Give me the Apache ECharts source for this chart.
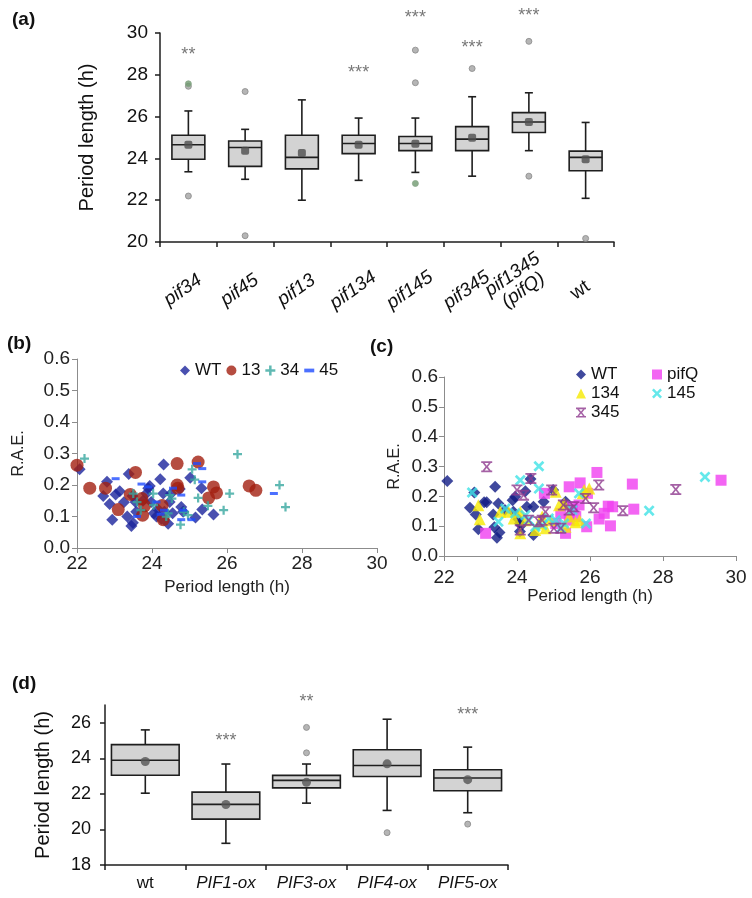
<!DOCTYPE html>
<html>
<head>
<meta charset="utf-8">
<script src="https://cdn.jsdelivr.net/npm/echarts@6/dist/echarts.min.js"></script>
<style>
  html, body { margin: 0; padding: 0; background: #fff; }
  #main { width: 752px; height: 898px; }
</style>
</head>
<body>
<div id="main"></div>
<script>
var FONT = '"Liberation Sans", Arial, Helvetica, sans-serif';

// (a) period length of pif mutants: [lowWhisker, q1, median, q3, highWhisker]
var catA = ['pif34', 'pif45', 'pif13', 'pif134', 'pif145', 'pif345', 'pif1345\n(pifQ)', 'wt'];
var boxA = [
  [23.36, 23.96, 24.65, 25.11, 26.27],
  [23.00, 23.62, 24.52, 24.83, 25.39],
  [22.00, 23.50, 24.05, 25.11, 26.80],
  [22.95, 24.23, 24.71, 25.11, 25.93],
  [23.33, 24.37, 24.71, 25.05, 25.93],
  [23.15, 24.37, 24.92, 25.52, 26.95],
  [24.37, 25.24, 25.74, 26.19, 27.14],
  [22.09, 23.41, 24.05, 24.35, 25.72]
];
var meanA = [24.65, 24.37, 24.26, 24.65, 24.70, 24.99, 25.74, 23.96];
var outA = [[0, 27.45], [0, 22.2], [1, 27.2], [1, 20.3], [4, 29.18], [4, 27.62], [5, 28.3], [6, 29.6], [6, 23.15], [7, 20.17]];
var outGreenA = [[0, 27.57], [4, 22.8]];
var starsA = [[0, 29.2, '**'], [3, 28.34, '***'], [4, 30.96, '***'], [5, 29.5, '***'], [6, 31.04, '***']];

// (b) R.A.E. vs period
var wtB = [[22.07,0.25],[22.8,0.21],[22.7,0.165],[22.87,0.14],[22.94,0.09],[23.03,0.17],[23.14,0.18],[23.38,0.235],[23.25,0.145],[23.34,0.10],[23.45,0.07],[23.49,0.08],[23.48,0.165],[23.56,0.146],[23.58,0.115],[23.76,0.15],[23.85,0.173],[23.9,0.19],[23.94,0.197],[23.98,0.146],[24.05,0.11],[24.12,0.1],[24.16,0.123],[24.22,0.218],[24.25,0.093],[24.3,0.173],[24.31,0.265],[24.33,0.115],[24.43,0.077],[24.47,0.146],[24.51,0.173],[24.55,0.11],[24.74,0.187],[24.78,0.13],[24.83,0.115],[25.02,0.223],[25.16,0.097],[25.32,0.19],[25.34,0.122],[25.64,0.106]];
var p13B = [[22.0,0.263],[22.34,0.19],[22.76,0.19],[23.1,0.122],[23.42,0.17],[23.56,0.24],[23.73,0.157],[23.8,0.134],[23.75,0.104],[24.27,0.135],[24.3,0.09],[24.67,0.268],[24.67,0.2],[24.69,0.19],[25.23,0.273],[25.51,0.159],[25.64,0.194],[25.72,0.175],[26.59,0.197],[26.77,0.183]];
var p34B = [[22.2,0.284],[23.5,0.173],[23.6,0.146],[23.7,0.12],[24.03,0.173],[24.04,0.136],[24.38,0.1],[24.43,0.11],[24.47,0.168],[24.53,0.157],[24.76,0.074],[24.85,0.115],[24.96,0.104],[25.07,0.25],[25.14,0.217],[25.23,0.159],[25.49,0.134],[25.91,0.12],[26.07,0.173],[26.28,0.298],[27.4,0.2],[27.56,0.13]];
var p45B = [[23.03,0.22],[23.6,0.1],[23.72,0.203],[23.9,0.194],[24.12,0.146],[24.23,0.107],[24.32,0.12],[24.56,0.19],[24.78,0.168],[24.83,0.12],[24.78,0.09],[25.05,0.09],[25.2,0.268],[25.34,0.252],[25.34,0.21],[27.25,0.173]];

// (c)
var wtC = [[22.09,0.251],[22.71,0.162],[22.83,0.213],[22.87,0.139],[22.94,0.09],[23.1,0.18],[23.17,0.18],[23.4,0.232],[23.35,0.139],[23.38,0.096],[23.45,0.061],[23.52,0.079],[23.49,0.176],[23.67,0.154],[23.88,0.187],[23.95,0.199],[23.9,0.148],[24.04,0.123],[24.08,0.109],[24.12,0.104],[24.08,0.082],[24.23,0.217],[24.27,0.165],[24.37,0.258],[24.45,0.165],[24.45,0.07],[24.73,0.182],[24.99,0.221],[25.33,0.182]];
var pifQC = [[23.14,0.076],[24.75,0.21],[25.06,0.109],[25.2,0.143],[25.33,0.076],[25.43,0.232],[25.43,0.12],[25.52,0.165],[25.61,0.132],[25.7,0.171],[25.73,0.245],[25.91,0.098],[25.93,0.21],[26.19,0.28],[26.25,0.124],[26.39,0.143],[26.5,0.167],[26.56,0.101],[26.62,0.165],[27.16,0.241],[27.2,0.157],[29.59,0.254]];
var p134C = [[22.94,0.17],[22.98,0.123],[23.54,0.148],[23.77,0.148],[23.91,0.126],[24.09,0.148],[24.09,0.076],[24.23,0.12],[24.5,0.087],[24.6,0.109],[24.69,0.132],[24.78,0.093],[24.92,0.12],[25.06,0.215],[25.15,0.17],[25.29,0.176],[25.33,0.098],[25.43,0.132],[25.6,0.113],[25.71,0.12],[25.8,0.21],[25.84,0.221],[25.98,0.226]];
var p145C = [[22.77,0.213],[23.49,0.115],[23.68,0.159],[23.95,0.143],[24.09,0.254],[24.23,0.137],[24.32,0.12],[24.5,0.098],[24.6,0.301],[24.6,0.226],[24.69,0.104],[24.87,0.126],[25.06,0.12],[25.2,0.093],[25.29,0.109],[25.52,0.154],[25.7,0.21],[25.89,0.109],[27.62,0.152],[29.15,0.265]];
var p345C = [[23.17,0.299],[24.0,0.221],[24.09,0.087],[24.18,0.204],[24.32,0.12],[24.38,0.26],[24.6,0.115],[24.69,0.12],[24.78,0.148],[24.95,0.221],[25.01,0.093],[25.2,0.093],[25.27,0.171],[25.43,0.154],[25.56,0.165],[25.88,0.193],[26.1,0.162],[26.24,0.238],[26.9,0.152],[28.35,0.223]];

// (d) overexpressors
var catD = ['wt', 'PIF1-ox', 'PIF3-ox', 'PIF4-ox', 'PIF5-ox'];
var boxD = [
  [22.04, 23.05, 23.89, 24.77, 25.60],
  [19.22, 20.58, 21.41, 22.10, 23.68],
  [21.48, 22.34, 22.76, 23.04, 23.68],
  [21.07, 22.98, 23.60, 24.48, 26.20],
  [20.94, 22.18, 22.89, 23.36, 24.63]
];
var meanD = [23.82, 21.40, 22.65, 23.69, 22.80];
var outD = [[2, 25.74], [2, 24.31], [3, 19.82], [4, 20.3]];
var starsD = [[1, 25.25, '***'], [2, 27.46, '**'], [4, 26.7, '***']];

var PLUS = 'path://M3,0h2v3h3v2h-3v3h-2v-3h-3v-2h3z';
var DASH = 'path://M0,0h8v3h-8z';
var CROSS = 'path://M0,1.4L1.4,0L4,2.6L6.6,0L8,1.4L5.4,4L8,6.6L6.6,8L4,5.4L1.4,8L0,6.6L2.6,4z';
var HOUR = 'path://M0,0h8v1.3h-8z M0,6.7h8v1.3h-8z M1,1.3L2.5,1.3L4,3.2L5.5,1.3L7,1.3L4.9,4L7,6.7L5.5,6.7L4,4.8L2.5,6.7L1,6.7L3.1,4z';

function boxRenderer(ratio, cap) {
  return function (params, api) {
    var i = api.value(0);
    var lo = api.coord([i, api.value(1)]);
    var q1 = api.coord([i, api.value(2)]);
    var md = api.coord([i, api.value(3)]);
    var q3 = api.coord([i, api.value(4)]);
    var hi = api.coord([i, api.value(5)]);
    var w = api.size([1, 0])[0] * ratio;
    var cx = lo[0];
    var ls = { stroke: '#1e1e1e', lineWidth: 1.6, fill: null };
    return {
      type: 'group',
      children: [
        { type: 'line', shape: { x1: cx, y1: lo[1], x2: cx, y2: q1[1] }, style: ls },
        { type: 'line', shape: { x1: cx, y1: q3[1], x2: cx, y2: hi[1] }, style: ls },
        { type: 'line', shape: { x1: cx - cap / 2, y1: lo[1], x2: cx + cap / 2, y2: lo[1] }, style: ls },
        { type: 'line', shape: { x1: cx - cap / 2, y1: hi[1], x2: cx + cap / 2, y2: hi[1] }, style: ls },
        { type: 'rect', shape: { x: cx - w / 2, y: q3[1], width: w, height: q1[1] - q3[1] },
          style: { fill: '#d3d3d3', stroke: '#1e1e1e', lineWidth: 1.6 } },
        { type: 'line', shape: { x1: cx - w / 2, y1: md[1], x2: cx + w / 2, y2: md[1] }, style: ls }
      ]
    };
  };
}

function starSeries(xi, yi, data) {
  return {
    type: 'scatter', xAxisIndex: xi, yAxisIndex: yi, data: data,
    symbolSize: 1, itemStyle: { color: 'rgba(0,0,0,0)' }, clip: false, silent: true,
    label: { show: true, position: 'inside', offset: [0, 5], formatter: function (p) { return p.value[2]; },
      fontSize: 18, color: '#555', fontFamily: FONT }
  };
}

var darkAxis = { lineStyle: { color: '#1e1e1e', width: 1.5 } };
var grayAxis = { lineStyle: { color: '#8c8c8c', width: 1 } };
var darkTick = { show: true, length: 5, lineStyle: { color: '#1e1e1e', width: 1.5 } };
var grayTick = { show: true, length: 5, lineStyle: { color: '#8c8c8c', width: 1 } };

var myChart = echarts.init(document.getElementById('main'));

myChart.setOption({
  backgroundColor: '#fff',
  animation: false,
  textStyle: { fontFamily: FONT },

  graphic: [
    { type: 'text', left: 12, top: 10, style: { text: '(a)', font: 'bold 19px ' + FONT, fill: '#111' } },
    { type: 'text', left: 7, top: 334, style: { text: '(b)', font: 'bold 19px ' + FONT, fill: '#111' } },
    { type: 'text', left: 370, top: 337, style: { text: '(c)', font: 'bold 19px ' + FONT, fill: '#111' } },
    { type: 'text', left: 12, top: 674, style: { text: '(d)', font: 'bold 19px ' + FONT, fill: '#111' } }
  ],

  legend: [
    { data: ['WT', '13', '34', { name: '45', icon: DASH }], left: 175, top: 357,
      itemWidth: 10, itemHeight: 10, itemGap: 5, selectedMode: false,
      textStyle: { fontSize: 17, color: '#111', fontFamily: FONT } },
    { data: ['WT ', '134', '345'], orient: 'vertical', left: 571, top: 361,
      itemWidth: 10, itemHeight: 10, itemGap: 2, selectedMode: false,
      textStyle: { fontSize: 17, color: '#111', fontFamily: FONT } },
    { data: ['pifQ', '145'], orient: 'vertical', left: 647, top: 361,
      itemWidth: 10, itemHeight: 10, itemGap: 2, selectedMode: false,
      textStyle: { fontSize: 17, color: '#111', fontFamily: FONT } }
  ],

  grid: [
    { left: 160, top: 33, width: 454, height: 209 },
    { left: 77, top: 359, width: 300, height: 189 },
    { left: 444, top: 377, width: 292, height: 179 },
    { left: 105, top: 705, width: 403, height: 160 }
  ],

  xAxis: [
    { type: 'category', gridIndex: 0, data: catA, axisLine: darkAxis, axisTick: darkTick,
      axisLabel: { rotate: 35, margin: 56, align: 'center', verticalAlign: 'bottom',
        fontSize: 19, color: '#111', fontStyle: 'italic',
        formatter: function (v) { return v === 'wt' ? '{n|wt}' : v; },
        rich: { n: { fontStyle: 'normal', fontSize: 19, color: '#111' } } } },
    { type: 'value', gridIndex: 1, min: 22, max: 30, interval: 2, splitLine: { show: false },
      axisLine: grayAxis, axisTick: grayTick,
      axisLabel: { fontSize: 19, color: '#222', margin: 6 },
      name: 'Period length (h)', nameLocation: 'middle', nameGap: 31,
      nameTextStyle: { fontSize: 17, color: '#222' } },
    { type: 'value', gridIndex: 2, min: 22, max: 30, interval: 2, splitLine: { show: false },
      axisLine: grayAxis, axisTick: grayTick,
      axisLabel: { fontSize: 19, color: '#222', margin: 12 },
      name: 'Period length (h)', nameLocation: 'middle', nameGap: 32,
      nameTextStyle: { fontSize: 17, color: '#222' } },
    { type: 'category', gridIndex: 3, data: catD, axisLine: darkAxis, axisTick: darkTick,
      axisLabel: { margin: 10, fontSize: 17, color: '#111', fontStyle: 'italic',
        formatter: function (v) { return v === 'wt' ? '{n|wt}' : v; },
        rich: { n: { fontStyle: 'normal', fontSize: 17, color: '#111' } } } }
  ],

  yAxis: [
    { type: 'value', gridIndex: 0, min: 20, max: 30, interval: 2, splitLine: { show: false },
      axisLine: { show: true, lineStyle: { color: '#1e1e1e', width: 1.5 } }, axisTick: darkTick,
      axisLabel: { fontSize: 19, color: '#111', margin: 12 },
      name: 'Period length (h)', nameLocation: 'middle', nameGap: 63,
      nameTextStyle: { fontSize: 20, color: '#111' } },
    { type: 'value', gridIndex: 1, min: 0, max: 0.6, interval: 0.1, splitLine: { show: false },
      axisLine: { show: true, lineStyle: { color: '#8c8c8c', width: 1 } }, axisTick: grayTick,
      axisLabel: { fontSize: 19, color: '#222', margin: 7, formatter: function (v) { return v.toFixed(1); } },
      name: 'R.A.E.', nameLocation: 'middle', nameGap: 50,
      nameTextStyle: { fontSize: 16, color: '#222' } },
    { type: 'value', gridIndex: 2, min: 0, max: 0.6, interval: 0.1, splitLine: { show: false },
      axisLine: { show: true, lineStyle: { color: '#8c8c8c', width: 1 } }, axisTick: grayTick,
      axisLabel: { fontSize: 19, color: '#222', margin: 6, formatter: function (v) { return v.toFixed(1); } },
      name: 'R.A.E.', nameLocation: 'middle', nameGap: 41,
      nameTextStyle: { fontSize: 16, color: '#222' } },
    { type: 'value', gridIndex: 3, min: 18, max: 27, interval: 2, splitLine: { show: false },
      axisLine: { show: true, lineStyle: { color: '#1e1e1e', width: 1.5 } },
      axisTick: { show: true, length: 5, customValues: [18, 20, 22, 24, 26], lineStyle: { color: '#1e1e1e', width: 1.5 } },
      axisLabel: { fontSize: 18, color: '#111', margin: 14, customValues: [18, 20, 22, 24, 26] },
      name: 'Period length (h)', nameLocation: 'middle', nameGap: 52,
      nameTextStyle: { fontSize: 20, color: '#111' } }
  ],

  series: [
    // (a)
    { type: 'custom', xAxisIndex: 0, yAxisIndex: 0, renderItem: boxRenderer(0.58, 8),
      encode: { x: 0, y: [1, 2, 3, 4, 5] },
      data: boxA.map(function (b, i) { return [i].concat(b); }) },
    { type: 'scatter', xAxisIndex: 0, yAxisIndex: 0, symbol: 'roundRect', symbolSize: 8,
      itemStyle: { color: '#4f4f4f' }, data: meanA.map(function (m, i) { return [i, m]; }) },
    { type: 'scatter', xAxisIndex: 0, yAxisIndex: 0, symbolSize: 6,
      itemStyle: { color: '#a3a3a3', borderColor: '#8a8a8a', borderWidth: 1 }, data: outA },
    { type: 'scatter', xAxisIndex: 0, yAxisIndex: 0, symbolSize: 6,
      itemStyle: { color: '#6f9a6f', borderColor: '#8aa88a', borderWidth: 1 }, data: outGreenA },
    starSeries(0, 0, starsA),

    // (b)
    { name: 'WT', type: 'scatter', xAxisIndex: 1, yAxisIndex: 1, symbol: 'diamond', symbolSize: 12,
      itemStyle: { color: '#1c249c' }, data: wtB },
    { name: '13', type: 'scatter', xAxisIndex: 1, yAxisIndex: 1, symbol: 'circle', symbolSize: 13,
      itemStyle: { color: '#a21f10' }, data: p13B },
    { name: '34', type: 'scatter', xAxisIndex: 1, yAxisIndex: 1, symbol: PLUS, symbolSize: 9,
      itemStyle: { color: '#38a8a0' }, data: p34B },
    { name: '45', type: 'scatter', xAxisIndex: 1, yAxisIndex: 1, symbol: DASH, symbolSize: 8, symbolKeepAspect: true,
      itemStyle: { color: '#1f4cff' }, data: p45B },

    // (c)
    { name: 'WT ', type: 'scatter', xAxisIndex: 2, yAxisIndex: 2, symbol: 'diamond', symbolSize: 12,
      itemStyle: { color: '#101c84' }, data: wtC },
    { name: 'pifQ', type: 'scatter', xAxisIndex: 2, yAxisIndex: 2, symbol: 'rect', symbolSize: 11,
      itemStyle: { color: '#f03ef0' }, data: pifQC },
    { name: '134', type: 'scatter', xAxisIndex: 2, yAxisIndex: 2, symbol: 'triangle', symbolSize: 12,
      itemStyle: { color: '#f6ea00' }, data: p134C },
    { name: '145', type: 'scatter', xAxisIndex: 2, yAxisIndex: 2, symbol: CROSS, symbolSize: 11,
      itemStyle: { color: '#3fe2e6' }, data: p145C },
    { name: '345', type: 'scatter', xAxisIndex: 2, yAxisIndex: 2, symbol: HOUR, symbolSize: 11,
      itemStyle: { color: '#8e3a8e' }, data: p345C },

    // (d)
    { type: 'custom', xAxisIndex: 3, yAxisIndex: 3, renderItem: boxRenderer(0.84, 9),
      encode: { x: 0, y: [1, 2, 3, 4, 5] },
      data: boxD.map(function (b, i) { return [i].concat(b); }) },
    { type: 'scatter', xAxisIndex: 3, yAxisIndex: 3, symbol: 'circle', symbolSize: 9,
      itemStyle: { color: '#555' }, data: meanD.map(function (m, i) { return [i, m]; }) },
    { type: 'scatter', xAxisIndex: 3, yAxisIndex: 3, symbolSize: 6,
      itemStyle: { color: '#a3a3a3', borderColor: '#8a8a8a', borderWidth: 1 }, data: outD },
    starSeries(3, 3, starsD)
  ]
});
</script>
</body>
</html>
